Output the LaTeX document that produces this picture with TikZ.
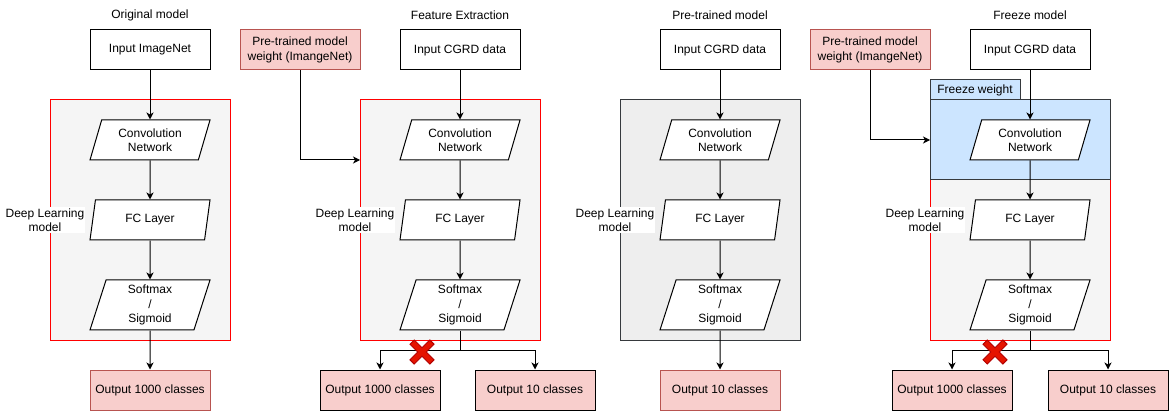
\documentclass[tikz,border=0pt]{standalone}
\usepackage{fontspec}
\setmainfont{Liberation Sans}
\usetikzlibrary{shapes.geometric,arrows.meta,calc}
\definecolor{boxred}{HTML}{F8CECC}
\definecolor{boxredline}{HTML}{B85450}
\definecolor{bggray}{HTML}{F5F5F5}
\definecolor{bgdark}{HTML}{EEEEEE}
\definecolor{linedark}{HTML}{36393D}
\definecolor{freezeblue}{HTML}{CCE5FF}
\definecolor{crossred}{HTML}{E51400}
\definecolor{crossline}{HTML}{B20000}
\tikzset{
  box/.style={draw,minimum width=120pt,minimum height=40pt,inner sep=0pt,align=center},
  outbox/.style={box,fill=boxred,draw=boxredline},
  splitbox/.style={box,fill=boxred,draw=black},
  layer/.style={trapezium,trapezium left angle=63.4,trapezium right angle=116.6,
    trapezium stretches body,draw,fill=white,minimum width=120pt,minimum height=40pt,
    inner sep=0pt,align=center},
  softlayer/.style={layer,trapezium left angle=68.2,trapezium right angle=111.8,minimum height=50pt},
  dlbox/.style={draw=red,fill=bggray},
  dllabel/.style={fill=white,inner sep=1pt,align=center},
  arrow/.style={-{Stealth[length=7pt,width=7pt,inset=2pt]}},
  crossmark/.style={fill=crossred,draw=crossline,line width=1pt}
}
\begin{document}
\begin{tikzpicture}[x=1pt,y=-1pt,line width=1pt,font=\fontsize{12}{14.5}\selectfont]
\useasboundingbox (0,0) rectangle (1169,411);
% titles
\node (t1) at (150,15) {Original model};
\node (t2) at (460,15) {Feature Extraction};
\node (t3) at (720,15) {Pre-trained model};
\node (t4) at (1030,15) {Freeze model};

% original model
\draw[dlbox] (50,100) rectangle (230,340);
\node[box] (in1) at (150,50) {Input ImageNet};
\node[layer] (conv1) at (150,140) {Convolution\\Network};
\node[layer] (fc1) at (150,220) {FC Layer};
\node[softlayer] (soft1) at (150,305) {Softmax\\/\\Sigmoid};
\node[outbox] (out1) at (150,390) {Output 1000 classes};
\node[dllabel] (dl1) at (45,220) {Deep Learning\\model};
\draw[arrow] (in1) -- (conv1);
\draw[arrow] (conv1) -- (fc1);
\draw[arrow] (fc1) -- (soft1);
\draw[arrow] (soft1) -- (out1);

% feature extraction
\draw[dlbox] (360,100) rectangle (540,340);
\coordinate (dl2w) at (360,160);
\node[outbox] (pre2) at (300,50) {Pre-trained model\\weight (ImangeNet)};
\node[box] (in2) at (460,50) {Input CGRD data};
\node[layer] (conv2) at (460,140) {Convolution\\Network};
\node[layer] (fc2) at (460,220) {FC Layer};
\node[softlayer] (soft2) at (460,305) {Softmax\\/\\Sigmoid};
\node[splitbox] (out2a) at (380,390) {Output 1000 classes};
\node[splitbox] (out2b) at (535,390) {Output 10 classes};
\node[dllabel] (dl2) at (355,220) {Deep Learning\\model};
\coordinate (split2) at (460,350);
\draw[arrow] (pre2) |- (dl2w);
\draw[arrow] (in2) -- (conv2);
\draw[arrow] (conv2) -- (fc2);
\draw[arrow] (fc2) -- (soft2);
\draw (soft2) -- (split2);
\draw[arrow] (split2) -| (out2a);
\draw[arrow] (split2) -| (out2b);

% pre-trained model
\draw[fill=bgdark,draw=linedark] (620,100) rectangle (800,340);
\node[box] (in3) at (720,50) {Input CGRD data};
\node[layer] (conv3) at (720,140) {Convolution\\Network};
\node[layer] (fc3) at (720,220) {FC Layer};
\node[softlayer] (soft3) at (720,305) {Softmax\\/\\Sigmoid};
\node[outbox] (out3) at (720,390) {Output 10 classes};
\node[dllabel] (dl3) at (615,220) {Deep Learning\\model};
\draw[arrow] (in3) -- (conv3);
\draw[arrow] (conv3) -- (fc3);
\draw[arrow] (fc3) -- (soft3);
\draw[arrow] (soft3) -- (out3);

% freeze model
\draw[dlbox] (930,100) rectangle (1110,340);
\draw[fill=freezeblue,draw=linedark] (930,100) rectangle (1110,180);
\node[draw=linedark,fill=freezeblue,minimum width=90pt,minimum height=20pt,inner sep=0pt]
  (fw4) at (975,90) {Freeze weight};
\coordinate (fz4w) at (930,140);
\node[outbox] (pre4) at (870,50) {Pre-trained model\\weight (ImangeNet)};
\node[box] (in4) at (1030,50) {Input CGRD data};
\node[layer] (conv4) at (1030,140) {Convolution\\Network};
\node[layer] (fc4) at (1030,220) {FC Layer};
\node[softlayer] (soft4) at (1030,305) {Softmax\\/\\Sigmoid};
\node[splitbox] (out4a) at (952,390) {Output 1000 classes};
\node[splitbox] (out4b) at (1108,390) {Output 10 classes};
\node[dllabel] (dl4) at (925,220) {Deep Learning\\model};
\coordinate (split4) at (1030,350);
\draw[arrow] (pre4) |- (fz4w);
\draw[arrow] (in4) -- (conv4);
\draw[arrow] (conv4) -- (fc4);
\draw[arrow] (fc4) -- (soft4);
\draw (soft4) -- (split4);
\draw[arrow] (split4) -| (out4a);
\draw[arrow] (split4) -| (out4b);

% dropped heads
\foreach \cx/\cy in {422/352, 995/352}
  \draw[crossmark,shift={(\cx,\cy)},rotate=45]
    (-3,-14) -- (3,-14) -- (3,-3) -- (14,-3) -- (14,3) -- (3,3) -- (3,14)
    -- (-3,14) -- (-3,3) -- (-14,3) -- (-14,-3) -- (-3,-3) -- cycle;
\end{tikzpicture}
\end{document}
